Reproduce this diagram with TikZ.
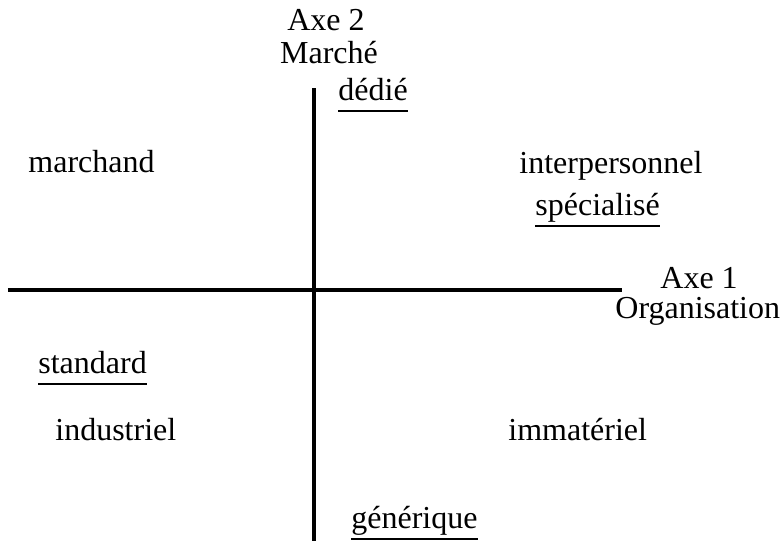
\documentclass[tikz,border=0pt]{standalone}
\usepackage{fontspec}
\setmainfont{Liberation Serif}
\tikzset{
    mot/.style={inner sep=0pt, anchor=base west, font=\fontsize{16}{19}\selectfont},
    axe/.style={line width=2pt},
    souligne/.style={line width=0.8pt}
}
\begin{document}
\begin{tikzpicture}[x=0.5pt, y=-0.5pt]
    \useasboundingbox (0,0) rectangle (784,541);
    % Axes
    \coordinate (haut) at (314,88);
    \coordinate (bas) at (314,541);
    \coordinate (gauche) at (8,290);
    \coordinate (droite) at (622,290);
    \draw[axe] (haut) -- (bas);
    \draw[axe] (gauche) -- (droite);
    % Titres des axes
    \node[mot, anchor=base] (axe2) at (326,30) {Axe 2};
    \node[mot, anchor=base] (marche) at (329,63) {Marché};
    \node[mot] (axe1) at (660,288) {Axe 1};
    \node[mot] (organisation) at (615,318) {Organisation};
    % Mots
    \node[mot] (dedie) at (338,100) {dédié};
    \node[mot] (marchand) at (28,172) {marchand};
    \node[mot] (interpersonnel) at (519,173) {interpersonnel};
    \node[mot] (specialise) at (535,215) {spécialisé};
    \node[mot] (standard) at (38,373) {standard};
    \node[mot] (industriel) at (55,440) {industriel};
    \node[mot] (immateriel) at (508,440) {immatériel};
    \node[mot] (generique) at (351,528) {générique};
    % Soulignements
    \foreach \m in {dedie, specialise, standard, generique}
        \draw[souligne] ([yshift=-5.5pt]\m.base west) -- ([yshift=-5.5pt]\m.base east);
\end{tikzpicture}
\end{document}
